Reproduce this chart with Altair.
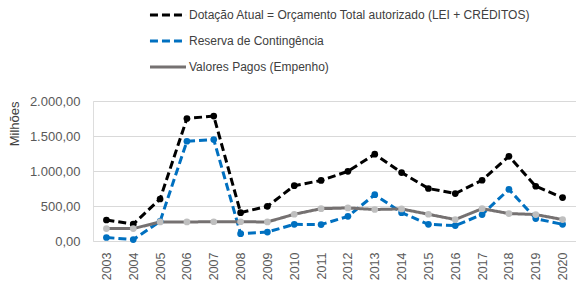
import altair as alt
import pandas as pd

years = [str(y) for y in range(2003, 2021)]
dotacao = [300, 240, 600, 1750, 1785, 405, 495, 790, 865, 995, 1240, 978, 750, 678, 868, 1210, 782, 620]
reserva = [50, 20, 280, 1425, 1450, 105, 128, 238, 234, 352, 662, 405, 238, 220, 378, 738, 320, 238]
pagos = [177, 177, 272, 272, 275, 275, 272, 382, 462, 472, 450, 458, 382, 306, 462, 392, 378, 306]

series_names = [
    "Dotação Atual = Orçamento Total autorizado (LEI + CRÉDITOS)",
    "Reserva de Contingência",
    "Valores Pagos (Empenho)",
]
line_colors = ["#000000", "#0070C0", "#757171"]
point_colors = ["#000000", "#0070C0", "#BFBFBF"]
dashes = [[8, 4], [8, 4], [1, 0]]

rows = []
for name, vals in zip(series_names, [dotacao, reserva, pagos]):
    for y, v in zip(years, vals):
        rows.append({"ano": y, "valor": v, "serie": name})
df = pd.DataFrame(rows)

FONT = "Liberation Sans Narrow, Arial Narrow, Liberation Sans, Arial, sans-serif"

x_enc = alt.X("ano:O", scale=alt.Scale(type="point", padding=0.5),
              axis=alt.Axis(title=None, labelAngle=-90, labelAlign="right", labelBaseline="middle",
                            labelPadding=11, ticks=False, domain=False, grid=False,
                            labelFont=FONT, labelFontSize=12.5, labelColor="#595959"))
y_enc = alt.Y("valor:Q", scale=alt.Scale(domain=[0, 2000]),
              axis=alt.Axis(title="Milhões", values=[0, 500, 1000, 1500, 2000],
                            labelExpr="datum.value >= 1000 ? floor(datum.value/1000) + '.' + format(datum.value % 1000, '03d') + ',00' : datum.value + ',00'",
                            ticks=False, domain=False, grid=True, gridColor="#D9D9D9", gridWidth=1,
                            labelPadding=13, labelFont=FONT, labelFontSize=13, labelColor="#595959",
                            titleFont=FONT, titleFontSize=13, titleFontWeight="normal", titleColor="#404040",
                            titleAnchor="end", titleX=-72, titleAngle=-90))

legend = alt.Legend(title=None, orient="none", legendX=55, legendY=-106, direction="vertical",
                    symbolType="stroke", symbolStrokeWidth=3, symbolSize=1300,
                    labelFont=FONT, labelFontSize=12, labelColor="#404040", labelOffset=1,
                    rowPadding=0, labelLimit=500)

lines = alt.Chart(df).mark_line(strokeWidth=3).encode(
    x=x_enc, y=y_enc,
    color=alt.Color("serie:N", scale=alt.Scale(domain=series_names, range=line_colors), legend=legend),
    strokeDash=alt.StrokeDash("serie:N", scale=alt.Scale(domain=series_names, range=dashes), legend=legend),
    strokeWidth=alt.StrokeWidth("serie:N", scale=alt.Scale(domain=series_names, range=[3, 3, 5]), legend=None),
    order=alt.Order("serie:N"),
    detail="serie:N",
)

points = alt.Chart(df).mark_circle(size=45, opacity=1).encode(
    x=x_enc, y=y_enc,
    fill=alt.Fill("serie:N", scale=alt.Scale(domain=series_names, range=point_colors), legend=None),
)

chart = alt.layer(lines, points).properties(
    width=483, height=140,
    autosize=alt.AutoSizeParams(type="none"),
    padding={"left": 93, "top": 101, "right": 0, "bottom": 45},
).configure_view(stroke=None).configure(background="white")

chart.save("out.html", embed_options={"renderer": "svg", "actions": False})
